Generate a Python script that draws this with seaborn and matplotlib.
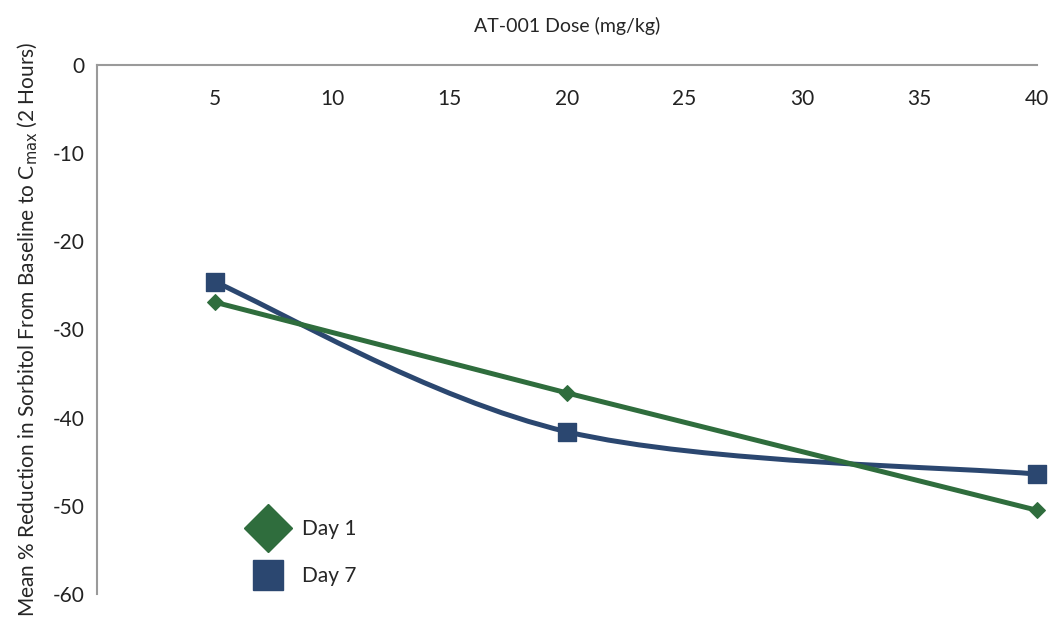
import numpy as np
import pandas as pd
import matplotlib
matplotlib.use("Agg")
import matplotlib.pyplot as plt
import seaborn as sns
from matplotlib.path import Path
from matplotlib.patches import PathPatch
from matplotlib.lines import Line2D

# values
dose = [5, 20, 40]
day1 = [-26.9, -37.2, -50.5]
day7 = [-24.6, -41.6, -46.4]
x_ticks = [5, 10, 15, 20, 25, 30, 35, 40]
y_ticks = [0, -10, -20, -30, -40, -50, -60]

green = "#2f6d3d"
blue = "#2b4770"

sns.set_theme(style="white")
plt.rcParams["font.family"] = ["Lato", "DejaVu Sans"]
plt.rcParams["axes.unicode_minus"] = False

df = pd.DataFrame({"dose": dose, "Day 1": day1, "Day 7": day7})

fig = plt.figure(figsize=(10.56, 6.24), dpi=100)
ax = fig.add_axes([0.092, 0.048, 0.890, 0.848])

# Day 1: straight segments with diamonds
sns.lineplot(data=df, x="dose", y="Day 1", ax=ax, color=green, lw=3.6,
             marker="D", markersize=8, markeredgecolor=green, zorder=3,
             clip_on=False)

# Day 7: smoothed line (Excel style bezier through the points)
pts = np.column_stack([dose, day7])
verts = [tuple(pts[0])]
codes = [Path.MOVETO]
n = len(pts)
for i in range(n - 1):
    p0 = pts[max(i - 1, 0)]
    p1 = pts[i]
    p2 = pts[i + 1]
    p3 = pts[min(i + 2, n - 1)]
    c1 = p1 + (p2 - p0) / 6
    c2 = p2 - (p3 - p1) / 6
    verts += [tuple(c1), tuple(c2), tuple(p2)]
    codes += [Path.CURVE4] * 3
ax.add_patch(PathPatch(Path(verts, codes), facecolor="none", edgecolor=blue,
                       lw=3.6, zorder=2, capstyle="round", clip_on=False))
sns.scatterplot(data=df, x="dose", y="Day 7", ax=ax, color=blue, marker="s",
                s=150, edgecolor=blue, zorder=4, clip_on=False)

ax.set_xlim(0, 40)
ax.set_ylim(-60, 0)
ax.set_xticks(x_ticks)
ax.set_yticks(y_ticks)
ax.set_xlabel("")
ax.set_ylabel("Mean % Reduction in Sorbitol From Baseline to C$_{\\mathrm{max}}$ (2 Hours)",
              fontsize=15, labelpad=9)
ax.set_title("AT-001 Dose (mg/kg)", fontsize=14, pad=24)

ax.spines["bottom"].set_position(("data", 0))
for s in ["top", "right"]:
    ax.spines[s].set_visible(False)
for s in ["bottom", "left"]:
    ax.spines[s].set_color("#9a9a9a")
    ax.spines[s].set_linewidth(1.5)
ax.tick_params(axis="both", direction="out", length=5, width=1.2,
               color="#9a9a9a", labelsize=15, labelcolor="#222222")
ax.tick_params(axis="x", pad=12)
ax.tick_params(axis="y", pad=4)

handles = [
    Line2D([], [], ls="none", marker="D", markersize=24, color=green),
    Line2D([], [], ls="none", marker="s", markersize=22, color=blue),
]
ax.legend(handles, ["Day 1", "Day 7"], loc="lower left",
          bbox_to_anchor=(0.14, -0.02), frameon=False, fontsize=15,
          handletextpad=0.6, labelspacing=1.3)

fig.savefig("out.png", dpi=100)
